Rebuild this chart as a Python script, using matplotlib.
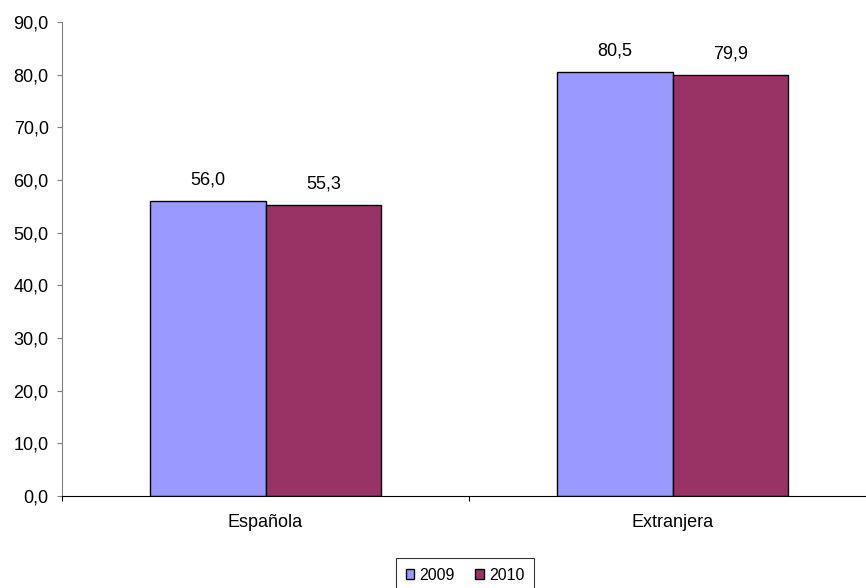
import matplotlib.pyplot as plt
import numpy as np

plt.rcParams['font.family'] = ['Liberation Sans', 'DejaVu Sans']

categories = ['Española', 'Extranjera']
years = ['2009', '2010']
values_2009 = [56.0, 80.5]
values_2010 = [55.3, 79.9]
colors = ['#9999FF', '#993366']

fig = plt.figure(figsize=(8.66, 5.88), dpi=100)
ax = fig.add_axes([62 / 866, 92 / 588, 814 / 866, 474 / 588])

x = np.arange(len(categories))
w = 0.285
series = [values_2009, values_2010]
for i, vals in enumerate(series):
    pos = x + (i - 0.5) * w
    bars = ax.bar(pos, vals, w, color=colors[i], edgecolor='black', linewidth=1,
                  label=years[i])
    for b, v in zip(bars, vals):
        ax.text(b.get_x() + b.get_width() / 2, v + 4.0, f'{v:.1f}'.replace('.', ','),
                ha='center', va='center', fontsize=13)

ax.set_xlim(-0.5, 1.5)
ax.set_ylim(0, 90)
ax.set_yticks(np.arange(0, 91, 10))
ax.set_yticklabels([f'{t:.1f}'.replace('.', ',') for t in np.arange(0, 91, 10)], fontsize=13)

# category labels in the middle, ticks on the boundaries
ax.set_xticks([-0.5, 0.5, 1.5])
ax.set_xticklabels([])
ax.tick_params(axis='x', length=3.6, color='black')
ax.tick_params(axis='y', length=3.6, color='#808080', pad=6)
for xi, c in zip(x, categories):
    ax.text(xi, -5.1, c, ha='center', va='center', fontsize=13)

ax.spines['top'].set_visible(False)
ax.spines['right'].set_visible(False)
ax.spines['left'].set_color('#808080')
ax.spines['bottom'].set_color('black')

leg = fig.legend(loc='upper center', bbox_to_anchor=(465 / 866, 1 - 558 / 588), ncol=2,
                 fontsize=11.5, frameon=True, fancybox=False, edgecolor='black',
                 handlelength=0.55, handleheight=0.55, handletextpad=0.3, columnspacing=1.3,
                 borderpad=0.6, borderaxespad=0)
leg.get_frame().set_linewidth(0.8)

fig.savefig('out.png', dpi=100)
